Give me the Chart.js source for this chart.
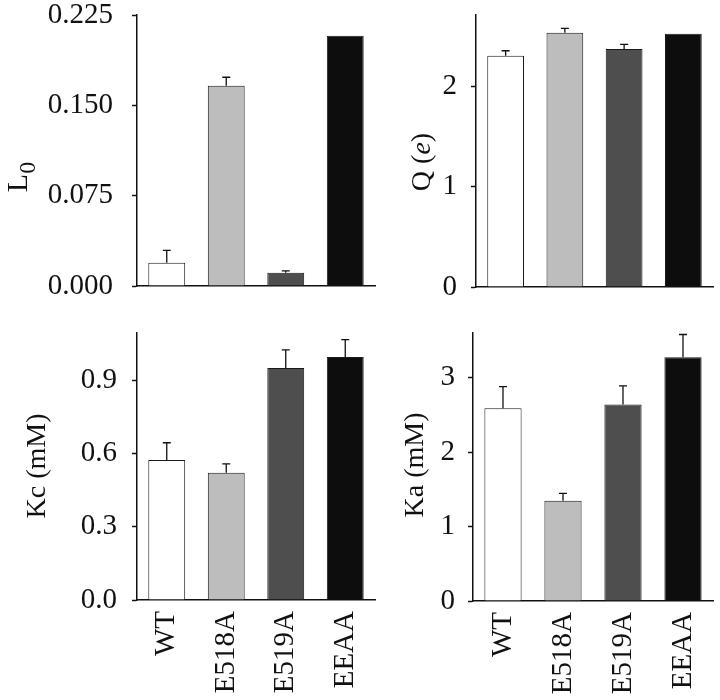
<!DOCTYPE html>
<html><head><meta charset="utf-8">
<script src="https://cdn.jsdelivr.net/npm/chart.js@4/dist/chart.umd.min.js"></script>
<style>
body{margin:0;background:#fff;width:720px;height:700px;position:relative;overflow:hidden}
.p{position:absolute}
</style></head><body>
<div class="p" style="left:0;top:0;width:380px;height:300px"><canvas id="c1"></canvas></div>
<div class="p" style="left:340px;top:0;width:380px;height:300px"><canvas id="c2"></canvas></div>
<div class="p" style="left:0;top:300px;width:380px;height:400px"><canvas id="c3"></canvas></div>
<div class="p" style="left:340px;top:300px;width:380px;height:400px"><canvas id="c4"></canvas></div>
<script>
const categories = ['WT', 'E518A', 'E519A', 'EEAA'];

const l0Values = [0.0193, 0.1663, 0.0110, 0.2078];
const l0Errors = [0.0103, 0.0070, 0.0015, 0];
const l0Ticks = [0, 0.075, 0.150, 0.225];

const qValues = [2.31, 2.54, 2.377, 2.53];
const qErrors = [0.05, 0.044, 0.047, 0];
const qTicks = [0, 1, 2];

const kcValues = [0.574, 0.522, 0.951, 0.997];
const kcErrors = [0.071, 0.036, 0.075, 0.071];
const kcTicks = [0, 0.3, 0.6, 0.9];

const kaValues = [2.59, 1.347, 2.64, 3.275];
const kaErrors = [0.29, 0.10, 0.25, 0.305];
const kaTicks = [0, 1, 2, 3];

const SERIF = '"Liberation Serif", "Times New Roman", serif';
const barColors = ['#ffffff', '#bdbdbd', '#4e4e4e', '#0d0d0d'];

function errorBarPlugin(errors) {
  return {
    id: 'errbars',
    afterDatasetsDraw(chart) {
      const ctx = chart.ctx;
      const meta = chart.getDatasetMeta(0);
      const ys = chart.scales.y;
      const vals = chart.data.datasets[0].data;
      ctx.save();
      ctx.strokeStyle = '#111';
      ctx.lineWidth = 1.3;
      errors.forEach((e, i) => {
        if (!e) return;
        const x = meta.data[i].x;
        const y0 = ys.getPixelForValue(vals[i]);
        const y1 = ys.getPixelForValue(vals[i] + e);
        ctx.beginPath();
        ctx.moveTo(x, y0); ctx.lineTo(x, y1);
        ctx.moveTo(x - 4, y1); ctx.lineTo(x + 4, y1);
        ctx.stroke();
      });
      ctx.restore();
    }
  };
}

function yTitlePlugin(title) {
  return {
    id: 'ytitle',
    afterDraw(chart) {
      const ctx = chart.ctx;
      ctx.save();
      ctx.fillStyle = '#111';
      ctx.textBaseline = 'alphabetic';
      ctx.textAlign = 'left';
      const fontOf = p => (p.italic ? 'italic ' : '') + p.size + 'px ' + SERIF;
      let total = 0;
      const widths = title.parts.map(p => {
        ctx.font = fontOf(p);
        const w = ctx.measureText(p.t).width;
        total += w;
        return w;
      });
      ctx.translate(title.x, title.y);
      ctx.rotate(-Math.PI / 2);
      let cx = -total / 2;
      title.parts.forEach((p, i) => {
        ctx.font = fontOf(p);
        ctx.fillText(p.t, cx, p.shift || 0);
        cx += widths[i];
      });
      ctx.restore();
    }
  };
}

function makeChart(id, cfg) {
  const tickFont = { family: SERIF, size: 29, lineHeight: 0.9 };
  return new Chart(document.getElementById(id), {
    type: 'bar',
    data: {
      labels: categories,
      datasets: [{
        data: cfg.values,
        backgroundColor: barColors,
        borderColor: '#1a1a1a',
        borderWidth: 1,
        barPercentage: 0.62,
        categoryPercentage: 1.0
      }]
    },
    plugins: [errorBarPlugin(cfg.errors), yTitlePlugin(cfg.title)],
    options: {
      responsive: true,
      maintainAspectRatio: false,
      animation: false,
      layout: { padding: cfg.padding },
      plugins: {
        legend: { display: false },
        tooltip: { enabled: false }
      },
      scales: {
        x: {
          grid: { display: false },
          border: { display: true, color: '#111', width: 1.5 },
          ticks: {
            display: cfg.showX,
            color: '#111',
            font: tickFont,
            minRotation: 90,
            maxRotation: 90,
            padding: 3,
            autoSkip: false
          },
          afterFit(s) { s.height = cfg.xHeight; s.paddingLeft = 0; s.paddingRight = 0; }
        },
        y: {
          min: 0,
          max: cfg.max,
          afterBuildTicks(s) { s.ticks = cfg.ticks.map(v => ({ value: v })); },
          grid: { display: true, drawOnChartArea: false, drawTicks: true, tickLength: 5, tickColor: '#111', tickWidth: 1.5 },
          border: { display: true, color: '#111', width: 1.5 },
          ticks: {
            color: '#111',
            font: tickFont,
            padding: cfg.tickPad,
            callback: v => v.toFixed(cfg.dec)
          },
          afterFit(s) { s.width = cfg.yWidth; s.paddingTop = 0; s.paddingBottom = 0; }
        }
      }
    }
  });
}

makeChart('c1', {
  values: l0Values, errors: l0Errors, ticks: l0Ticks, max: 0.225, dec: 3,
  padding: { top: 15, bottom: 14, left: 0, right: 5 },
  yWidth: 137, xHeight: 0, showX: false, tickPad: 19,
  title: { x: 27, y: 177, parts: [{ t: 'L', size: 30 }, { t: '0', size: 24, shift: 8 }] }
});

makeChart('c2', {
  values: qValues, errors: qErrors, ticks: qTicks, max: 2.717, dec: 0,
  padding: { top: 15, bottom: 13, left: 0, right: 7 },
  yWidth: 136, xHeight: 0, showX: false, tickPad: 14,
  title: { x: 430 - 340, y: 162, parts: [{ t: 'Q (', size: 28 }, { t: 'e', size: 28, italic: true }, { t: ')', size: 28 }] }
});

makeChart('c3', {
  values: kcValues, errors: kcErrors, ticks: kcTicks, max: 1.095, dec: 1,
  padding: { top: 33, bottom: 0, left: 0, right: 5 },
  yWidth: 137, xHeight: 100, showX: true, tickPad: 15,
  title: { x: 45, y: 166, parts: [{ t: 'Kc (mM)', size: 28 }] }
});

makeChart('c4', {
  values: kaValues, errors: kaErrors, ticks: kaTicks, max: 3.6, dec: 0,
  padding: { top: 33, bottom: 0, left: 0, right: 7 },
  yWidth: 133, xHeight: 99, showX: true, tickPad: 13,
  title: { x: 423 - 340, y: 165, parts: [{ t: 'Ka (mM)', size: 28 }] }
});
</script>
</body></html>
